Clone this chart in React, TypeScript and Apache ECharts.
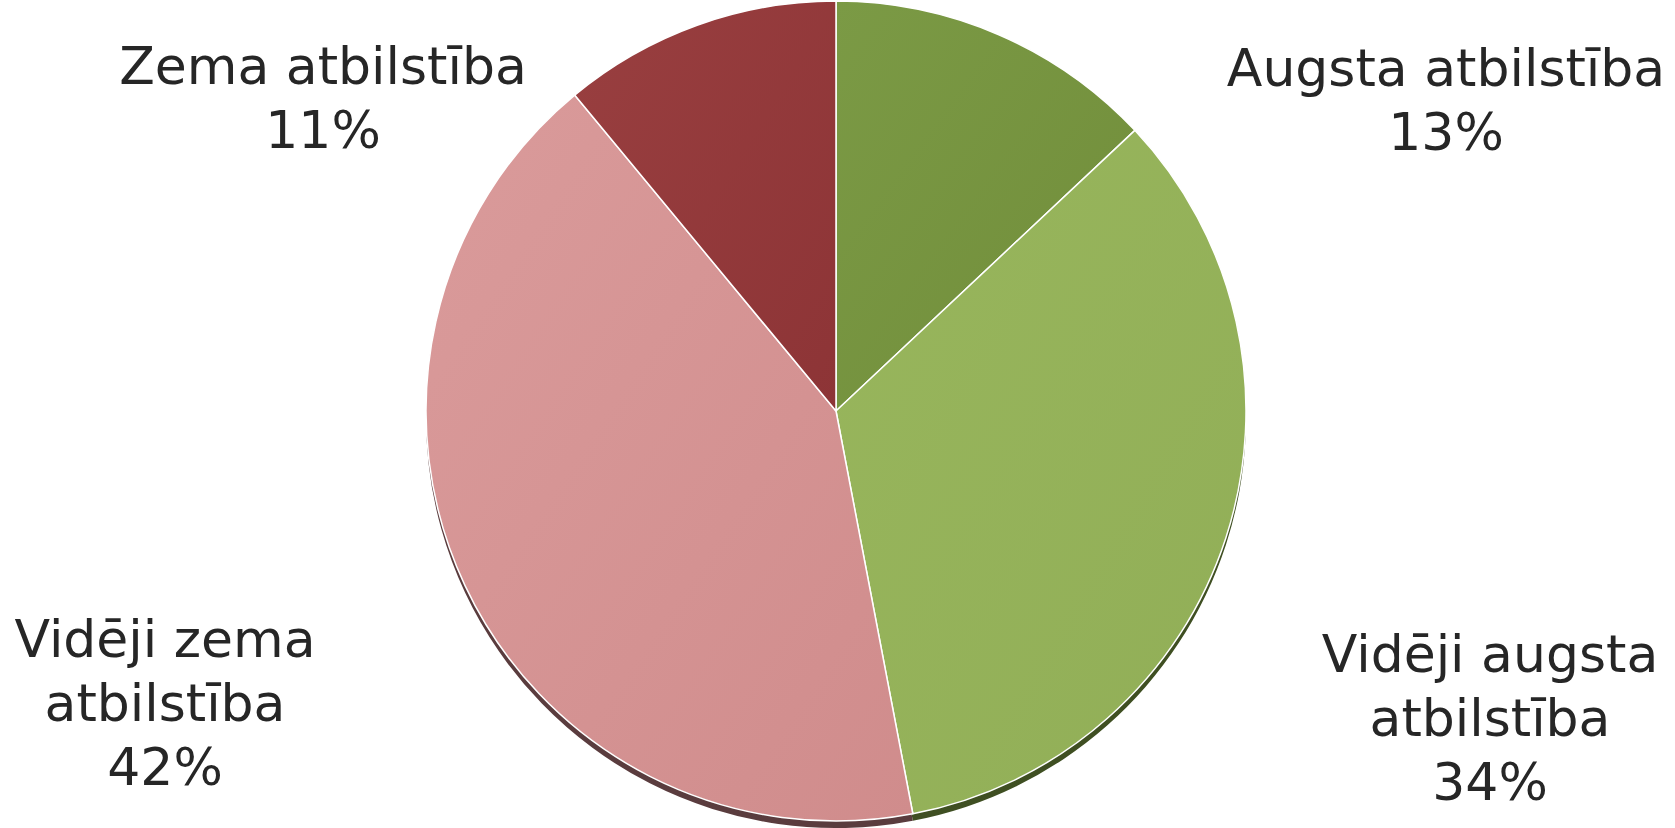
import React, { useEffect, useRef } from "react";
import * as echarts from "echarts";

const categories = [
  "Augsta atbilstība",
  "Vidēji augsta atbilstība",
  "Vidēji zema atbilstība",
  "Zema atbilstība",
];
const labelTexts = [
  "Augsta atbilstība",
  "Vidēji augsta\natbilstība",
  "Vidēji zema\natbilstība",
  "Zema atbilstība",
];
const values = [13, 34, 42, 11];

const topColors = [
  ["#7b9a45", "#718d3a"],
  ["#98b65c", "#91ae57"],
  ["#da9b9b", "#d08c8c"],
  ["#993f40", "#8d3436"],
];
const rimColors = ["#4a5c26", "#3f4f22", "#5a3c3e", "#5a2a2c"];
const labelPos = [
  [1446, 100],
  [1490, 718],
  [165, 703],
  [323, 98],
];

export default function App() {
  const ref = useRef<HTMLDivElement>(null);
  useEffect(() => {
    document.body.style.margin = "0";
    const chart = echarts.init(ref.current!, null, { renderer: "svg" });
    const center = [836, 411];
    const r = 410;
    chart.setOption({
      animation: false,
      backgroundColor: "#ffffff",
      series: [
        {
          type: "pie",
          silent: true,
          center: [center[0], center[1] + 7],
          radius: r,
          startAngle: 90,
          clockwise: true,
          label: { show: false },
          labelLine: { show: false },
          z: 1,
          data: categories.map((c, i) => ({
            name: c,
            value: values[i],
            itemStyle: { color: rimColors[i] },
          })),
        },
        {
          type: "pie",
          center,
          radius: r,
          startAngle: 90,
          clockwise: true,
          z: 2,
          itemStyle: { borderColor: "#ffffff", borderWidth: 1.5 },
          label: {
            show: true,
            position: "outside",
            fontFamily: "DejaVu Sans",
            fontSize: 52,
            lineHeight: 64,
            color: "#262626",
            align: "center",
            formatter: (p: any) =>
              labelTexts[p.dataIndex] + "\n" + Math.round(p.percent) + "%",
          },
          labelLine: { show: false },
          labelLayout: (p: any) => ({
            x: labelPos[p.dataIndex][0],
            y: labelPos[p.dataIndex][1],
            align: "center",
            verticalAlign: "middle",
          }),
          data: categories.map((c, i) => ({
            name: c,
            value: values[i],
            itemStyle: {
              color: new echarts.graphic.LinearGradient(0, 0, 1, 1, [
                { offset: 0, color: topColors[i][0] },
                { offset: 1, color: topColors[i][1] },
              ]),
            },
          })),
        },
      ],
    });
    return () => chart.dispose();
  }, []);
  return <div ref={ref} style={{ width: 1675, height: 828 }} />;
}
